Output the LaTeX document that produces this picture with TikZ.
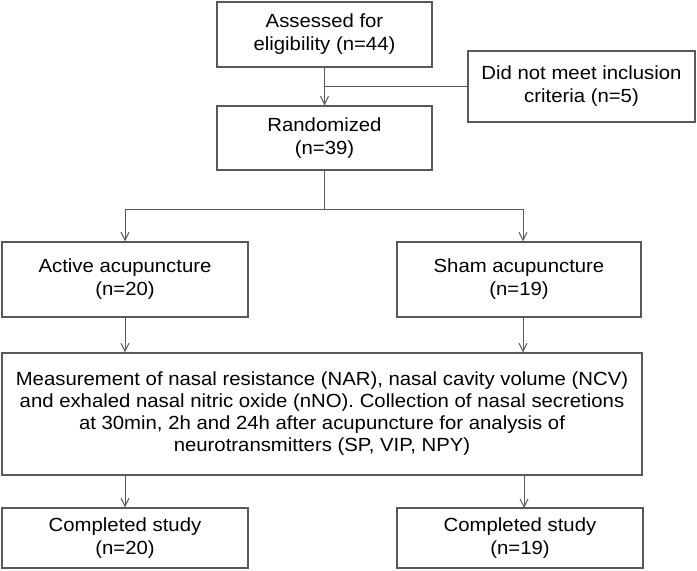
\documentclass[tikz,border=0pt]{standalone}
\usepackage{fontspec}
\setmainfont[FakeStretch=1.07]{Liberation Sans}
\usetikzlibrary{arrows.meta}
\definecolor{linegray}{RGB}{89,89,89}
\tikzset{
  box/.style={draw=linegray, line width=1.1pt, fill=white, align=center, inner sep=0pt,
    font=\fontsize{19}{23}\selectfont, text=black},
  conn/.style={draw=linegray, line width=1pt},
  arr/.style={conn, -{Straight Barb[length=8pt,width=8pt,line width=1pt]}}
}
\begin{document}
\begin{tikzpicture}[x=1pt,y=-1pt]
\useasboundingbox (0,0) rectangle (697,571);
\fill[white] (0,0) rectangle (697,571);

\node[box, minimum width=215pt, minimum height=65pt] (assess) at (324.5,34.5)
  {Assessed for\\eligibility (n=44)};
\node[box, minimum width=227pt, minimum height=71pt] (excl) at (581.5,86.5)
  {Did not meet inclusion\\criteria (n=5)};
\node[box, minimum width=215pt, minimum height=64pt] (rand) at (324.5,138)
  {Randomized\\(n=39)};
\node[box, minimum width=246pt, minimum height=75pt] (active) at (125,279.5)
  {Active acupuncture\\(n=20)};
\node[box, minimum width=244pt, minimum height=75pt] (sham) at (519,279.5)
  {Sham acupuncture\\(n=19)};
\node[box, minimum width=640pt, minimum height=122pt, font=\fontsize{19}{22}\selectfont] (meas) at (322,414)
  {Measurement of nasal resistance (NAR), nasal cavity volume (NCV)\\
   and exhaled nasal nitric oxide (nNO). Collection of nasal secretions\\
   at 30min, 2h and 24h after acupuncture for analysis of\\
   neurotransmitters (SP, VIP, NPY)};
\node[box, minimum width=246pt, minimum height=60pt] (compL) at (125,538)
  {Completed study\\(n=20)};
\node[box, minimum width=246pt, minimum height=60pt] (compR) at (520,538)
  {Completed study\\(n=19)};

% assessed -> randomized, with exclusion branch
\draw[arr] (assess.south) -- (rand.north);
\coordinate (excljoin) at (324.5,86.5);
\draw[conn] (excljoin) -- (excl.west);

% randomization fork
\coordinate (fork) at (324.5,209);
\coordinate (forkR) at (523,209);
\draw[conn] (rand.south) -- (fork);
\draw[arr] (fork) -| (active.north);
\draw[arr] (fork) -- (forkR) -- (forkR |- sham.north);

% groups -> measurement
\draw[arr] (active.south) -- (active.south |- meas.north);
\coordinate (shamout) at (523,317);
\draw[arr] (shamout) -- (shamout |- meas.north);

% measurement -> completed
\draw[arr] (meas.south -| compL.north) -- (compL.north);
\coordinate (compRin) at (524,508);
\draw[arr] (compRin |- meas.south) -- (compRin);
\end{tikzpicture}
\end{document}
